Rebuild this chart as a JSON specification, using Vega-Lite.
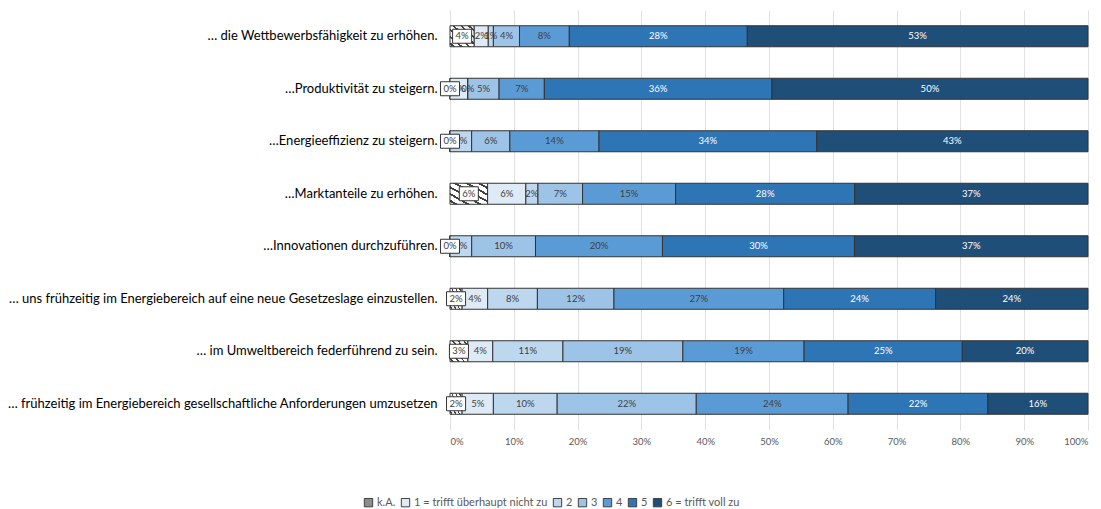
{
  "$schema": "https://vega.github.io/schema/vega-lite/v6.json",
  "autosize": "none",
  "width": 638,
  "height": 420,
  "padding": {"left": 450, "top": 10, "right": 13, "bottom": 79},
  "background": "white",
  "config": {
    "font": "Lato",
    "view": {"stroke": null},
    "axis": {"domain": false, "ticks": false, "titleFontSize": 0}
  },
  "data": {
    "values": [
      {"q": "… die Wettbewerbsfähigkeit zu erhöhen.", "c": "k.A.", "v": 3.8},
      {"q": "… die Wettbewerbsfähigkeit zu erhöhen.", "c": "1 = trifft überhaupt nicht zu", "v": 2.2},
      {"q": "… die Wettbewerbsfähigkeit zu erhöhen.", "c": "2", "v": 0.8},
      {"q": "… die Wettbewerbsfähigkeit zu erhöhen.", "c": "3", "v": 4.1},
      {"q": "… die Wettbewerbsfähigkeit zu erhöhen.", "c": "4", "v": 7.8},
      {"q": "… die Wettbewerbsfähigkeit zu erhöhen.", "c": "5", "v": 27.9},
      {"q": "… die Wettbewerbsfähigkeit zu erhöhen.", "c": "6 = trifft voll zu", "v": 53.4},
      {"q": "…Produktivität zu steigern.", "c": "k.A.", "v": 0},
      {"q": "…Produktivität zu steigern.", "c": "1 = trifft überhaupt nicht zu", "v": 2.8},
      {"q": "…Produktivität zu steigern.", "c": "2", "v": 0},
      {"q": "…Produktivität zu steigern.", "c": "3", "v": 4.9},
      {"q": "…Produktivität zu steigern.", "c": "4", "v": 7.1},
      {"q": "…Produktivität zu steigern.", "c": "5", "v": 35.7},
      {"q": "…Produktivität zu steigern.", "c": "6 = trifft voll zu", "v": 49.6},
      {"q": "…Energieeffizienz zu steigern.", "c": "k.A.", "v": 0},
      {"q": "…Energieeffizienz zu steigern.", "c": "1 = trifft überhaupt nicht zu", "v": 0},
      {"q": "…Energieeffizienz zu steigern.", "c": "2", "v": 3.4},
      {"q": "…Energieeffizienz zu steigern.", "c": "3", "v": 6.0},
      {"q": "…Energieeffizienz zu steigern.", "c": "4", "v": 14.0},
      {"q": "…Energieeffizienz zu steigern.", "c": "5", "v": 34.2},
      {"q": "…Energieeffizienz zu steigern.", "c": "6 = trifft voll zu", "v": 42.6},
      {"q": "…Marktanteile zu erhöhen.", "c": "k.A.", "v": 5.9},
      {"q": "…Marktanteile zu erhöhen.", "c": "1 = trifft überhaupt nicht zu", "v": 6.0},
      {"q": "…Marktanteile zu erhöhen.", "c": "2", "v": 1.9},
      {"q": "…Marktanteile zu erhöhen.", "c": "3", "v": 7.0},
      {"q": "…Marktanteile zu erhöhen.", "c": "4", "v": 14.6},
      {"q": "…Marktanteile zu erhöhen.", "c": "5", "v": 28.1},
      {"q": "…Marktanteile zu erhöhen.", "c": "6 = trifft voll zu", "v": 36.6},
      {"q": "…Innovationen durchzuführen.", "c": "k.A.", "v": 0},
      {"q": "…Innovationen durchzuführen.", "c": "1 = trifft überhaupt nicht zu", "v": 0},
      {"q": "…Innovationen durchzuführen.", "c": "2", "v": 3.4},
      {"q": "…Innovationen durchzuführen.", "c": "3", "v": 10.0},
      {"q": "…Innovationen durchzuführen.", "c": "4", "v": 19.9},
      {"q": "…Innovationen durchzuführen.", "c": "5", "v": 30.1},
      {"q": "…Innovationen durchzuführen.", "c": "6 = trifft voll zu", "v": 36.6},
      {"q": "… uns frühzeitig im Energiebereich auf eine neue Gesetzeslage einzustellen.", "c": "k.A.", "v": 1.9},
      {"q": "… uns frühzeitig im Energiebereich auf eine neue Gesetzeslage einzustellen.", "c": "1 = trifft überhaupt nicht zu", "v": 4.0},
      {"q": "… uns frühzeitig im Energiebereich auf eine neue Gesetzeslage einzustellen.", "c": "2", "v": 7.8},
      {"q": "… uns frühzeitig im Energiebereich auf eine neue Gesetzeslage einzustellen.", "c": "3", "v": 12.0},
      {"q": "… uns frühzeitig im Energiebereich auf eine neue Gesetzeslage einzustellen.", "c": "4", "v": 26.6},
      {"q": "… uns frühzeitig im Energiebereich auf eine neue Gesetzeslage einzustellen.", "c": "5", "v": 23.8},
      {"q": "… uns frühzeitig im Energiebereich auf eine neue Gesetzeslage einzustellen.", "c": "6 = trifft voll zu", "v": 23.9},
      {"q": "… im Umweltbereich federführend zu sein.", "c": "k.A.", "v": 2.8},
      {"q": "… im Umweltbereich federführend zu sein.", "c": "1 = trifft überhaupt nicht zu", "v": 3.9},
      {"q": "… im Umweltbereich federführend zu sein.", "c": "2", "v": 11.0},
      {"q": "… im Umweltbereich federführend zu sein.", "c": "3", "v": 18.8},
      {"q": "… im Umweltbereich federführend zu sein.", "c": "4", "v": 19.0},
      {"q": "… im Umweltbereich federführend zu sein.", "c": "5", "v": 24.8},
      {"q": "… im Umweltbereich federführend zu sein.", "c": "6 = trifft voll zu", "v": 19.7},
      {"q": "… frühzeitig im Energiebereich gesellschaftliche Anforderungen umzusetzen", "c": "k.A.", "v": 1.9},
      {"q": "… frühzeitig im Energiebereich gesellschaftliche Anforderungen umzusetzen", "c": "1 = trifft überhaupt nicht zu", "v": 4.9},
      {"q": "… frühzeitig im Energiebereich gesellschaftliche Anforderungen umzusetzen", "c": "2", "v": 10.0},
      {"q": "… frühzeitig im Energiebereich gesellschaftliche Anforderungen umzusetzen", "c": "3", "v": 21.8},
      {"q": "… frühzeitig im Energiebereich gesellschaftliche Anforderungen umzusetzen", "c": "4", "v": 23.8},
      {"q": "… frühzeitig im Energiebereich gesellschaftliche Anforderungen umzusetzen", "c": "5", "v": 21.9},
      {"q": "… frühzeitig im Energiebereich gesellschaftliche Anforderungen umzusetzen", "c": "6 = trifft voll zu", "v": 15.7}
    ]
  },
  "transform": [
    {"calculate": "indexof(['k.A.','1 = trifft überhaupt nicht zu','2','3','4','5','6 = trifft voll zu'], datum.c)", "as": "o"},
    {"stack": "v", "groupby": ["q"], "sort": [{"field": "o", "order": "ascending"}], "offset": "normalize", "as": ["x0", "x1"]},
    {"calculate": "(datum.x0 + datum.x1) / 2", "as": "xm"},
    {"calculate": "format(datum.v, '.0f') + '%'", "as": "lbl"}
  ],
  "encoding": {
    "y": {
      "field": "q", "type": "nominal", "sort": null, "title": null,
      "scale": {"paddingInner": 0.6, "paddingOuter": 0.3},
      "axis": {"labelFontSize": 13, "labelColor": "#000000", "labelPadding": 13, "labelLimit": 600, "grid": false}
    }
  },
  "layer": [
    {
      "mark": {"type": "bar", "stroke": "#333333", "strokeWidth": 1},
      "encoding": {
        "x": {
          "field": "x0", "type": "quantitative", "title": null,
          "scale": {"domain": [0, 1], "nice": false},
          "axis": {"format": ".0%", "values": [0, 0.1, 0.2, 0.3, 0.4, 0.5, 0.6, 0.7, 0.8, 0.9, 1], "labelFontSize": 9.5, "labelColor": "#595959", "labelPadding": 6, "grid": true, "gridColor": "#e0e0e0", "gridWidth": 1}
        },
        "x2": {"field": "x1"},
        "fill": {
          "condition": {
            "test": "datum.c === 'k.A.'",
            "value": {"gradient": "linear", "x1": 0, "y1": 1, "x2": 1, "y2": 0, "stops": [
              {"offset": 0, "color": "#ffffff"}, {"offset": 0.06, "color": "#ffffff"}, {"offset": 0.06, "color": "#404040"}, {"offset": 0.11, "color": "#404040"},
              {"offset": 0.11, "color": "#ffffff"}, {"offset": 0.22, "color": "#ffffff"}, {"offset": 0.22, "color": "#404040"}, {"offset": 0.27, "color": "#404040"},
              {"offset": 0.27, "color": "#ffffff"}, {"offset": 0.38, "color": "#ffffff"}, {"offset": 0.38, "color": "#404040"}, {"offset": 0.43, "color": "#404040"},
              {"offset": 0.43, "color": "#ffffff"}, {"offset": 0.54, "color": "#ffffff"}, {"offset": 0.54, "color": "#404040"}, {"offset": 0.59, "color": "#404040"},
              {"offset": 0.59, "color": "#ffffff"}, {"offset": 0.70, "color": "#ffffff"}, {"offset": 0.70, "color": "#404040"}, {"offset": 0.75, "color": "#404040"},
              {"offset": 0.75, "color": "#ffffff"}, {"offset": 0.86, "color": "#ffffff"}, {"offset": 0.86, "color": "#404040"}, {"offset": 0.91, "color": "#404040"},
              {"offset": 0.91, "color": "#ffffff"}, {"offset": 1, "color": "#ffffff"}
            ]}
          },
          "field": "c", "type": "nominal",
          "scale": {
            "domain": ["k.A.", "1 = trifft überhaupt nicht zu", "2", "3", "4", "5", "6 = trifft voll zu"],
            "range": ["#8c8c8c", "#deebf7", "#bdd7ee", "#9dc3e6", "#5b9bd5", "#2e75b6", "#1f4e79"]
          },
          "legend": {
            "title": null, "orient": "none", "direction": "horizontal",
            "legendX": -87, "legendY": 487,
            "symbolType": "square", "symbolSize": 70, "symbolStrokeColor": "#404040", "symbolStrokeWidth": 1,
            "labelFontSize": 11, "labelColor": "#595959", "labelOffset": 3, "columnPadding": 3
          }
        }
      }
    },
    {
      "transform": [{"filter": "datum.c !== 'k.A.'"}],
      "mark": {"type": "text", "fontSize": 9.5, "baseline": "middle", "align": "center"},
      "encoding": {
        "x": {"field": "xm", "type": "quantitative"},
        "text": {"field": "lbl"},
        "color": {
          "condition": {"test": "datum.c === '5' || datum.c === '6 = trifft voll zu'", "value": "#ffffff"},
          "value": "#404040"
        }
      }
    },
    {
      "transform": [{"filter": "datum.c === 'k.A.'"}],
      "mark": {"type": "point", "shape": "M-0.68,-0.5H0.68V0.5H-0.68Z", "size": 784, "filled": true, "fill": "#ffffff", "stroke": "#333333", "strokeWidth": 1, "opacity": 1},
      "encoding": {
        "x": {"field": "xm", "type": "quantitative"}
      }
    },
    {
      "transform": [{"filter": "datum.c === 'k.A.'"}],
      "mark": {"type": "text", "fontSize": 9.5, "baseline": "middle", "align": "center", "color": "#404040"},
      "encoding": {
        "x": {"field": "xm", "type": "quantitative"},
        "text": {"field": "lbl"}
      }
    }
  ]
}
